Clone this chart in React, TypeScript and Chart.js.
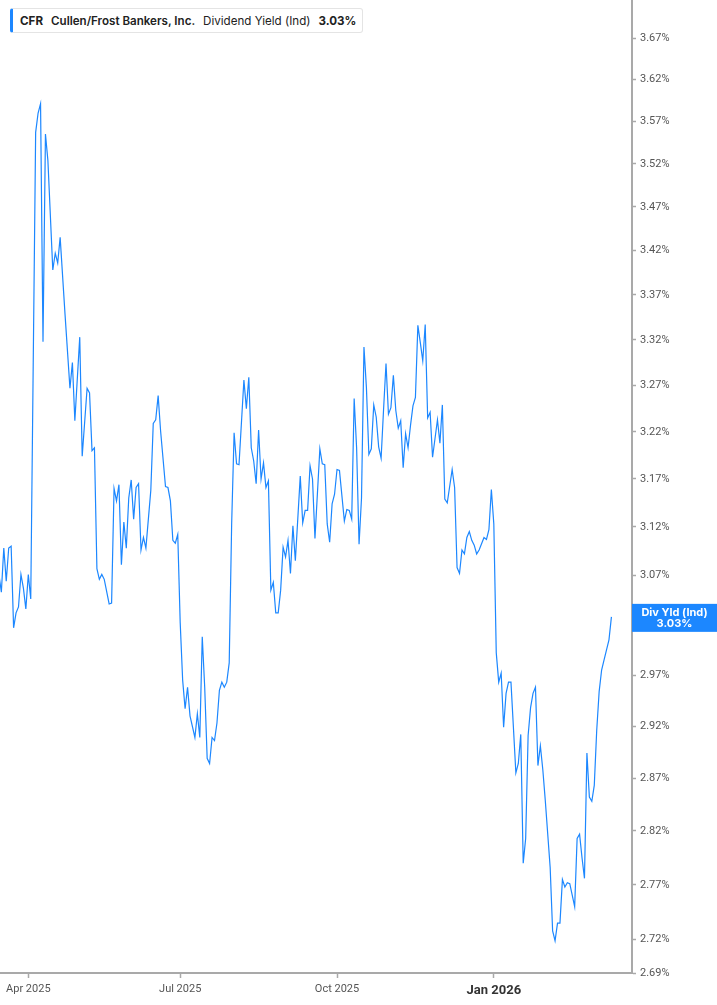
import React, { useEffect, useRef } from 'react';
import { Chart, registerables } from 'chart.js';

Chart.register(...registerables);

// trading-day index, 0 = first trading day of April 2025
const tradingDays = [
  -12, -11, -10, -9, -8, -7, -6, -5, -4, -3, -2, -1, 0, 1, 3, 4, 5, 6, 7, 8,
  10, 11, 12, 13, 15, 17, 18, 19, 21, 22, 24, 25, 26, 27, 28, 29, 30, 31, 33, 34,
  35, 36, 37, 38, 39, 40, 41, 42, 43, 44, 45, 46, 47, 48, 50, 51, 52, 53, 54, 56,
  57, 58, 59, 60, 61, 62, 63, 64, 65, 66, 68, 69, 70, 71, 72, 73, 74, 75, 76, 77,
  78, 79, 80, 81, 82, 83, 84, 85, 86, 88, 89, 90, 91, 92, 93, 94, 95, 96, 97, 98,
  99, 100, 101, 102, 103, 104, 105, 106, 107, 108, 109, 111, 112, 113, 114, 115, 116, 117, 119, 120,
  121, 122, 123, 124, 125, 126, 127, 129, 130, 131, 132, 133, 134, 135, 136, 137, 138, 139, 140, 141,
  142, 143, 144, 145, 146, 147, 148, 149, 150, 151, 152, 153, 154, 155, 156, 157, 158, 159, 160, 161,
  162, 163, 164, 165, 167, 168, 169, 170, 171, 173, 174, 175, 176, 177, 178, 179, 180, 181, 182, 183,
  184, 186, 187, 188, 189, 190, 191, 192, 193, 194, 195, 196, 197, 199, 200, 201, 202, 203, 204, 205,
  206, 207, 208, 209, 210, 211, 213, 214, 215, 216, 217, 218, 219, 220, 221, 223, 224, 225, 226, 227,
  228, 229, 230, 231, 232, 233, 234, 235, 236, 237, 238,
];

const dividendYield = [
  3.071, 3.053, 3.098, 3.064, 3.098, 3.1, 3.017, 3.032, 3.038, 3.071, 3.057, 3.036, 3.071, 3.046, 3.557, 3.58, 3.591, 3.318, 3.555, 3.524,
  3.398, 3.417, 3.406, 3.435, 3.348, 3.267, 3.295, 3.232, 3.323, 3.194, 3.267, 3.262, 3.2, 3.203, 3.077, 3.066, 3.071, 3.066, 3.041, 3.042,
  3.16, 3.147, 3.164, 3.081, 3.125, 3.098, 3.15, 3.169, 3.128, 3.161, 3.165, 3.096, 3.109, 3.098, 3.158, 3.229, 3.233, 3.259, 3.221, 3.162,
  3.161, 3.147, 3.106, 3.103, 3.112, 3.022, 2.965, 2.937, 2.958, 2.93, 2.909, 2.932, 2.909, 3.008, 2.958, 2.889, 2.884, 2.909, 2.906, 2.923,
  2.955, 2.963, 2.958, 2.963, 2.982, 3.123, 3.219, 3.186, 3.185, 3.276, 3.245, 3.279, 3.203, 3.189, 3.165, 3.222, 3.17, 3.187, 3.161, 3.168,
  3.055, 3.063, 3.032, 3.032, 3.055, 3.099, 3.089, 3.106, 3.072, 3.121, 3.085, 3.173, 3.124, 3.137, 3.137, 3.184, 3.17, 3.108, 3.202, 3.186,
  3.185, 3.123, 3.104, 3.144, 3.154, 3.18, 3.179, 3.126, 3.138, 3.137, 3.128, 3.256, 3.203, 3.102, 3.15, 3.312, 3.268, 3.196, 3.202, 3.249,
  3.236, 3.204, 3.192, 3.244, 3.294, 3.239, 3.246, 3.281, 3.243, 3.224, 3.232, 3.182, 3.218, 3.203, 3.227, 3.248, 3.257, 3.336, 3.317, 3.297,
  3.337, 3.235, 3.241, 3.193, 3.233, 3.208, 3.249, 3.149, 3.145, 3.18, 3.161, 3.078, 3.072, 3.096, 3.092, 3.109, 3.115, 3.106, 3.101, 3.092,
  3.096, 3.109, 3.107, 3.117, 3.159, 3.123, 2.992, 2.963, 2.972, 2.919, 2.952, 2.963, 2.963, 2.875, 2.884, 2.912, 2.79, 2.813, 2.911, 2.938,
  2.952, 2.958, 2.882, 2.901, 2.878, 2.849, 2.786, 2.728, 2.719, 2.735, 2.735, 2.775, 2.768, 2.772, 2.771, 2.75, 2.813, 2.817, 2.795, 2.776,
  2.894, 2.852, 2.848, 2.863, 2.916, 2.954, 2.975, 2.985, 2.995, 3.005, 3.028,
];

const monthTicks = [0, 62, 126, 190];
const monthLabels = ['Apr 2025', 'Jul 2025', 'Oct 2025', 'Jan 2026'];
const yieldTicks = [
  2.69, 2.72, 2.77, 2.82, 2.87, 2.92, 2.97, 3.02, 3.07, 3.12, 3.17,
  3.22, 3.27, 3.32, 3.37, 3.42, 3.47, 3.52, 3.57, 3.62, 3.67,
];

const BLUE = '#1c87ff';
const AXIS = '#a9a9a9';
const TICK_TEXT = '#555555';

const lastValueBox = {
  id: 'lastValueBox',
  afterDraw(chart: any) {
    const { ctx, chartArea, scales } = chart;
    const last = dividendYield[dividendYield.length - 1];
    const y = scales.y.getPixelForValue(last);
    const x0 = chartArea.right;
    const w = chart.width - x0;
    ctx.save();
    ctx.fillStyle = BLUE;
    ctx.fillRect(x0, y - 13, w, 28);
    ctx.fillStyle = '#ffffff';
    ctx.font = 'bold 11px Inter, "Noto Sans", sans-serif';
    ctx.textAlign = 'center';
    ctx.textBaseline = 'middle';
    ctx.fillText('Div Yld (Ind)', x0 + w / 2, y - 4);
    ctx.fillText(last.toFixed(2) + '%', x0 + w / 2, y + 7);
    ctx.restore();
  },
};

const YieldChart: React.FC = () => {
  const canvasRef = useRef<HTMLCanvasElement>(null);

  useEffect(() => {
    document.body.style.margin = '0';
    if (!canvasRef.current) return;
    const ctx = canvasRef.current.getContext('2d');
    if (!ctx) return;

    const chart = new Chart(ctx, {
      type: 'line',
      data: {
        datasets: [{
          data: tradingDays.map((d, i) => ({ x: d, y: dividendYield[i] })),
          borderColor: BLUE,
          borderWidth: 1.2,
          pointRadius: 0,
          tension: 0,
          fill: false,
        }],
      },
      options: {
        animation: false,
        responsive: true,
        maintainAspectRatio: false,
        layout: { padding: 0 },
        plugins: {
          legend: { display: false },
          tooltip: { enabled: false },
        },
        scales: {
          x: {
            type: 'linear',
            min: -11.55,
            max: 246.4,
            afterBuildTicks: (s: any) => { s.ticks = monthTicks.map(v => ({ value: v })); },
            afterFit: (s: any) => { s.height = 32; s.paddingLeft = 0; s.paddingRight = 0; },
            grid: { drawOnChartArea: false, drawTicks: true, tickLength: 5, tickColor: AXIS, tickWidth: 1.5 },
            border: { display: true, color: AXIS, width: 2 },
            ticks: {
              autoSkip: false,
              maxRotation: 0,
              padding: 5,
              color: (c: any) => (c.index === 3 ? '#333333' : TICK_TEXT),
              font: (c: any) => (c.index === 3
                ? { family: 'Roboto', size: 13, weight: 'bold' }
                : { family: 'Roboto', size: 11 }),
              callback: (_v: any, i: number) => monthLabels[i],
            },
          },
          y: {
            type: 'logarithmic',
            position: 'right',
            min: 2.69,
            max: 3.717,
            afterBuildTicks: (s: any) => { s.ticks = yieldTicks.map(v => ({ value: v })); },
            afterFit: (s: any) => { s.width = 85; s.paddingTop = 0; s.paddingBottom = 0; },
            grid: { drawOnChartArea: false, drawTicks: true, tickLength: 4, tickColor: AXIS, tickWidth: 1.5 },
            border: { display: true, color: AXIS, width: 2 },
            ticks: {
              autoSkip: false,
              padding: 4,
              color: TICK_TEXT,
              font: { family: 'Roboto', size: 11 },
              callback: (v: any) => Number(v).toFixed(2) + '%',
            },
          },
        },
      },
      plugins: [lastValueBox],
    });

    return () => chart.destroy();
  }, []);

  return <canvas ref={canvasRef}></canvas>;
};

export default function App() {
  return (
    <div style={{ position: 'relative', width: 717, height: 1005, background: '#ffffff' }}>
      <YieldChart />
      <div
        style={{
          position: 'absolute', left: 10, top: 8, width: 353, height: 25, boxSizing: 'border-box',
          border: '1px solid #e4e4e4', borderLeft: `3px solid ${BLUE}`, borderRadius: 3,
          background: '#ffffff', display: 'flex', alignItems: 'center', gap: 8, paddingLeft: 7,
          fontFamily: 'Inter, "Noto Sans", sans-serif', fontSize: 11.6, color: '#222222', whiteSpace: 'nowrap',
        }}
      >
        <span style={{ fontWeight: 700 }}>CFR</span>
        <span style={{ fontWeight: 600 }}>Cullen/Frost Bankers, Inc.</span>
        <span style={{ fontWeight: 400 }}>Dividend Yield (Ind)</span>
        <span style={{ fontWeight: 700 }}>3.03%</span>
      </div>
    </div>
  );
}
